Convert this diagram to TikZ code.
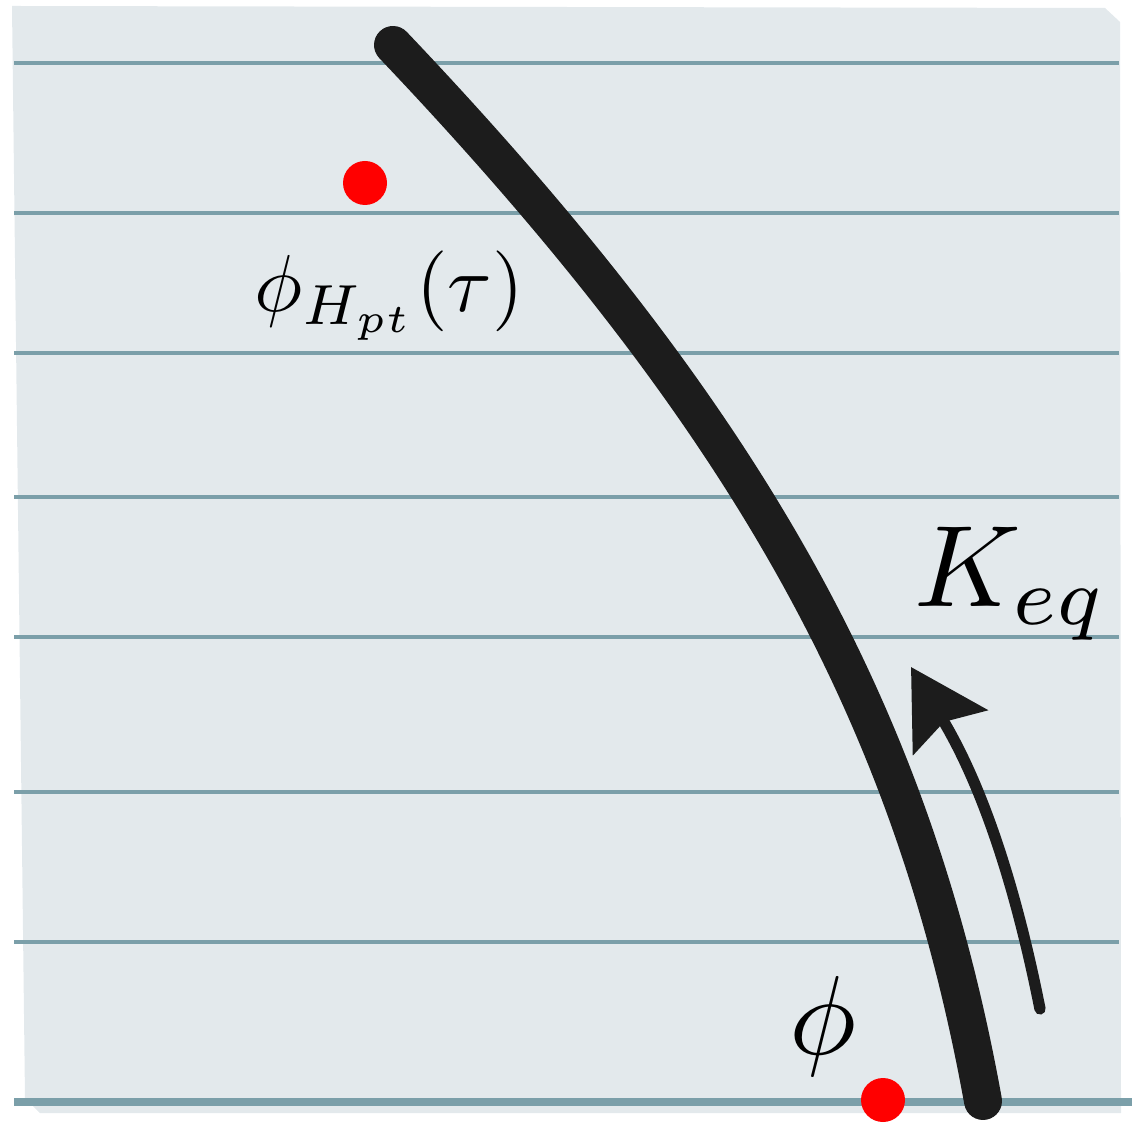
\documentclass[tikz,border=0pt]{standalone}
\usepackage{amsmath}
\usepackage{xcolor}
\usepackage{tikz}
\usetikzlibrary{arrows.meta, calc}
\definecolor{paperbg}{RGB}{227,233,236}
\definecolor{rulegray}{RGB}{123,159,169}
\definecolor{inkblack}{RGB}{28,28,28}

\begin{document}
\begin{tikzpicture}[
  ruleline/.style={rulegray, line width=1.2pt},
  reddot/.style={circle, fill=red, inner sep=0pt, minimum size=0.44cm},
  mathlabel/.style={inner sep=0pt, anchor=base west},
]
  \useasboundingbox (0,0) rectangle (11.32,11.23);

  % Sheet of ruled paper
  \fill[paperbg] (0.12,11.17) -- (11.05,11.15) -- (11.20,11.01)
      -- (11.21,0.10) -- (0.40,0.10) -- (0.25,0.25) -- cycle;

  % Rules
  \foreach \y in {10.60, 9.10, 7.70, 6.26, 4.86, 3.31, 1.81}
    \draw[ruleline] (0.14,\y) -- (11.19,\y);
  \draw[rulegray, line width=2.3pt] (0.14,0.21) -- (11.32,0.21);

  % Path end points
  \coordinate (ctop) at (3.93,10.78);
  \coordinate (cbot) at (9.83,0.22);
  \coordinate (astart) at (10.40,1.14);
  \coordinate (atip) at (9.11,4.56);

  % Thick curve
  \draw[inkblack, line width=10.8pt, line cap=round]
      (ctop) .. controls (7.54,6.98) and (9.14,4.03) .. (cbot);

  % Flow arrow
  \draw[inkblack, line width=3.2pt, line cap=round,
        -{Stealth[length=0.76cm, width=0.86cm, inset=0.12cm]}]
      (astart) .. controls (10.16,2.35) and (9.83,3.36) .. (atip);

  % Points
  \node[reddot] (ptop) at (3.65,9.40) {};
  \node[reddot] (pbot) at (8.83,0.23) {};

  % Labels
  \node[mathlabel, scale=2.3] (lhpt) at (2.53,8.11) {$\phi_{H_{pt}}(\tau)$};
  \node[mathlabel, scale=3.3] (lkeq) at (9.12,5.16) {$K_{eq}$};
  \node[mathlabel, scale=3.2] (lphi) at (7.87,0.68) {$\phi$};
\end{tikzpicture}
\end{document}
